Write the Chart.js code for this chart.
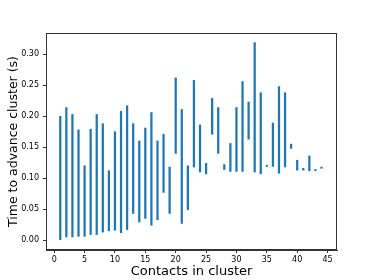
<!DOCTYPE html>
<html>
<head>
<meta charset="utf-8">
<script src="https://cdn.jsdelivr.net/npm/chart.js@4/dist/chart.umd.min.js"></script>
<style>
  html, body { margin: 0; padding: 0; background: #fff; }
  #wrap { width: 374px; height: 280px; position: relative; }
</style>
</head>
<body>
<div id="wrap"><canvas id="c" width="374" height="280"></canvas></div>
<script>
// Contacts in cluster (x)
const contacts = [1,2,3,4,5,6,7,8,9,10,11,12,13,14,15,16,17,18,19,20,21,22,23,24,25,26,27,28,29,30,31,32,33,34,35,36,37,38,39,40,41,42,43,44];
// Minimum time to advance cluster (s)
const minTimes = [0.000,0.005,0.005,0.006,0.006,0.009,0.009,0.013,0.015,0.016,0.012,0.017,0.043,0.029,0.035,0.024,0.033,0.077,0.043,0.140,0.027,0.049,0.118,0.110,0.107,0.171,0.140,0.114,0.111,0.111,0.111,0.163,0.110,0.107,0.119,0.119,0.108,0.118,0.148,0.113,0.113,0.112,0.112,0.116];
// Maximum time to advance cluster (s)
const maxTimes = [0.200,0.214,0.203,0.178,0.120,0.179,0.203,0.188,0.112,0.175,0.208,0.217,0.188,0.160,0.181,0.206,0.160,0.171,0.118,0.262,0.211,0.120,0.258,0.186,0.124,0.229,0.214,0.122,0.156,0.214,0.256,0.223,0.319,0.238,0.121,0.189,0.248,0.238,0.155,0.129,0.116,0.136,0.114,0.118];
// Tick labels
const xTicks = [0,5,10,15,20,25,30,35,40,45];
const yTicks = [0.00,0.05,0.10,0.15,0.20,0.25,0.30];

const FONT = "'DejaVu Sans', sans-serif";

const framePlugin = {
  id: 'frame',
  afterDraw(chart) {
    const {ctx, chartArea: a} = chart;
    ctx.save();
    ctx.strokeStyle = '#333';
    ctx.lineWidth = 1;
    ctx.strokeRect(Math.round(a.left) + 0.5, Math.round(a.top) + 0.5, Math.round(a.right - a.left) - 1, Math.round(a.bottom - a.top) - 1);
    ctx.restore();
  }
};

new Chart(document.getElementById('c'), {
  type: 'bar',
  data: {
    datasets: [{
      data: contacts.map((x, i) => ({ x: x, y: [minTimes[i], maxTimes[i]] })),
      backgroundColor: '#1f77b4',
      borderWidth: 0,
      borderSkipped: false,
      barThickness: 1.6,
      grouped: false
    }]
  },
  options: {
    responsive: false,
    animation: false,
    devicePixelRatio: 1,
    layout: { padding: { left: 0, top: 33, right: 37, bottom: 0 } },
    plugins: { legend: { display: false }, tooltip: { enabled: false } },
    scales: {
      x: {
        type: 'linear',
        min: -1.35,
        max: 46.55,
        offset: false,
        afterBuildTicks: s => { s.ticks = xTicks.map(v => ({ value: v })); },
        afterFit: s => { s.height = 30; },
        grid: { drawOnChartArea: false, drawTicks: true, tickLength: 3, color: '#333', offset: false },
        border: { display: true, color: '#333', width: 1 },
        ticks: { color: '#000', font: { family: FONT, size: 8 }, padding: 2, maxRotation: 0, autoSkip: false, callback: v => String(v) },
        title: { display: true, text: 'Contacts in cluster', color: '#000', font: { family: FONT, size: 13 }, padding: { top: 0, bottom: 1 } }
      },
      y: {
        type: 'linear',
        min: -0.016,
        max: 0.3345,
        afterBuildTicks: s => { s.ticks = yTicks.map(v => ({ value: v })); },
        afterFit: s => { s.width = 46; },
        grid: { drawOnChartArea: false, drawTicks: true, tickLength: 3, color: '#333' },
        border: { display: true, color: '#333', width: 1 },
        ticks: { color: '#000', font: { family: FONT, size: 8 }, padding: 4, autoSkip: false, callback: v => Number(v).toFixed(2) },
        title: { display: true, text: 'Time to advance cluster (s)', color: '#000', font: { family: FONT, size: 12.5 }, padding: { top: 6, bottom: 0 } }
      }
    }
  },
  plugins: [framePlugin]
});
</script>
</body>
</html>
